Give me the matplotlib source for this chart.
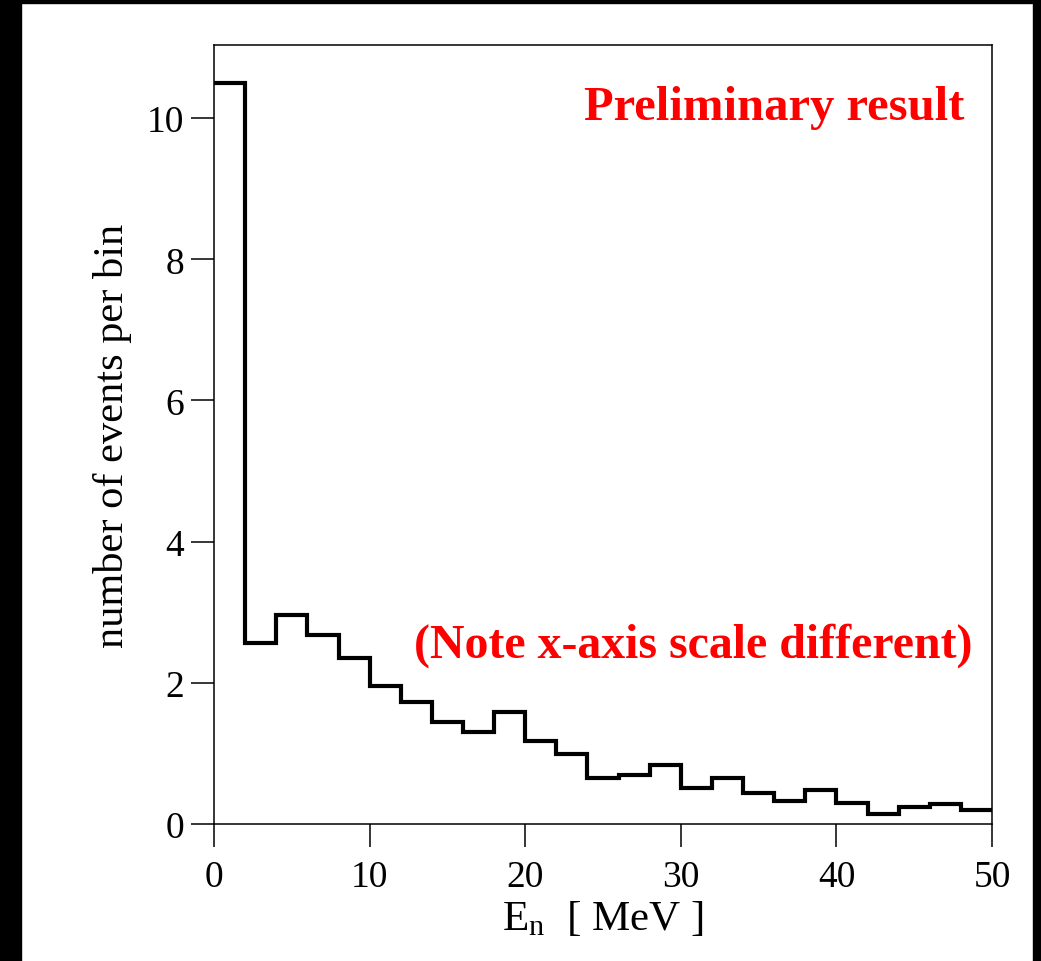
import numpy as np
import matplotlib
matplotlib.use('Agg')
import matplotlib.pyplot as plt
from matplotlib.patches import Rectangle

plt.rcParams['font.family'] = 'Liberation Serif'
plt.rcParams['mathtext.fontset'] = 'custom'
plt.rcParams['mathtext.rm'] = 'Liberation Serif'
plt.rcParams['mathtext.it'] = 'Liberation Serif:italic'

# neutron energy histogram, 2 MeV bins
bin_edges = np.arange(0, 52, 2)
counts = [10.50, 2.56, 2.96, 2.68, 2.35, 1.96, 1.73, 1.44, 1.30, 1.59,
          1.17, 0.99, 0.65, 0.69, 0.84, 0.51, 0.65, 0.44, 0.32, 0.48,
          0.30, 0.14, 0.24, 0.28, 0.20]

fig = plt.figure(figsize=(10.41, 9.62), dpi=100)
ax = fig.add_axes([0.2056, 0.1424, 0.7474, 0.8094])

ax.stairs(counts, bin_edges, baseline=None, color='black', linewidth=3.0)

ax.set_xlim(0, 50)
ax.set_ylim(0, 11.03)
ax.set_xticks([0, 10, 20, 30, 40, 50])
ax.set_yticks([0, 2, 4, 6, 8, 10])
ax.tick_params(direction='out', length=16.5, width=1.1, labelsize=27)
ax.tick_params(axis='x', pad=9)
ax.tick_params(axis='y', pad=5)
for s in ax.spines.values():
    s.set_linewidth(1.1)

ax.set_xlabel(r'E$_\mathrm{n}$  [ MeV ]', fontsize=31, labelpad=4)
ax.set_ylabel('number of events per bin', fontsize=30.5, labelpad=11)

ax.text(0.965, 0.905, 'Preliminary result', transform=ax.transAxes,
        ha='right', va='baseline', color='red', fontsize=35, fontweight='bold')
ax.text(0.975, 0.215, '(Note x-axis scale different)', transform=ax.transAxes,
        ha='right', va='baseline', color='red', fontsize=34.5, fontweight='bold')

# black frame strips around the page
W, H = 1041, 962
for x0, y0, w, h in [(0, 0, 21, H), (0, H - 4, W, 4), (1033, 0, 8, H)]:
    fig.patches.append(Rectangle((x0 / W, y0 / H), w / W, h / H,
                                 transform=fig.transFigure, color='black', zorder=10))

plt.savefig('out.png', dpi=100)
